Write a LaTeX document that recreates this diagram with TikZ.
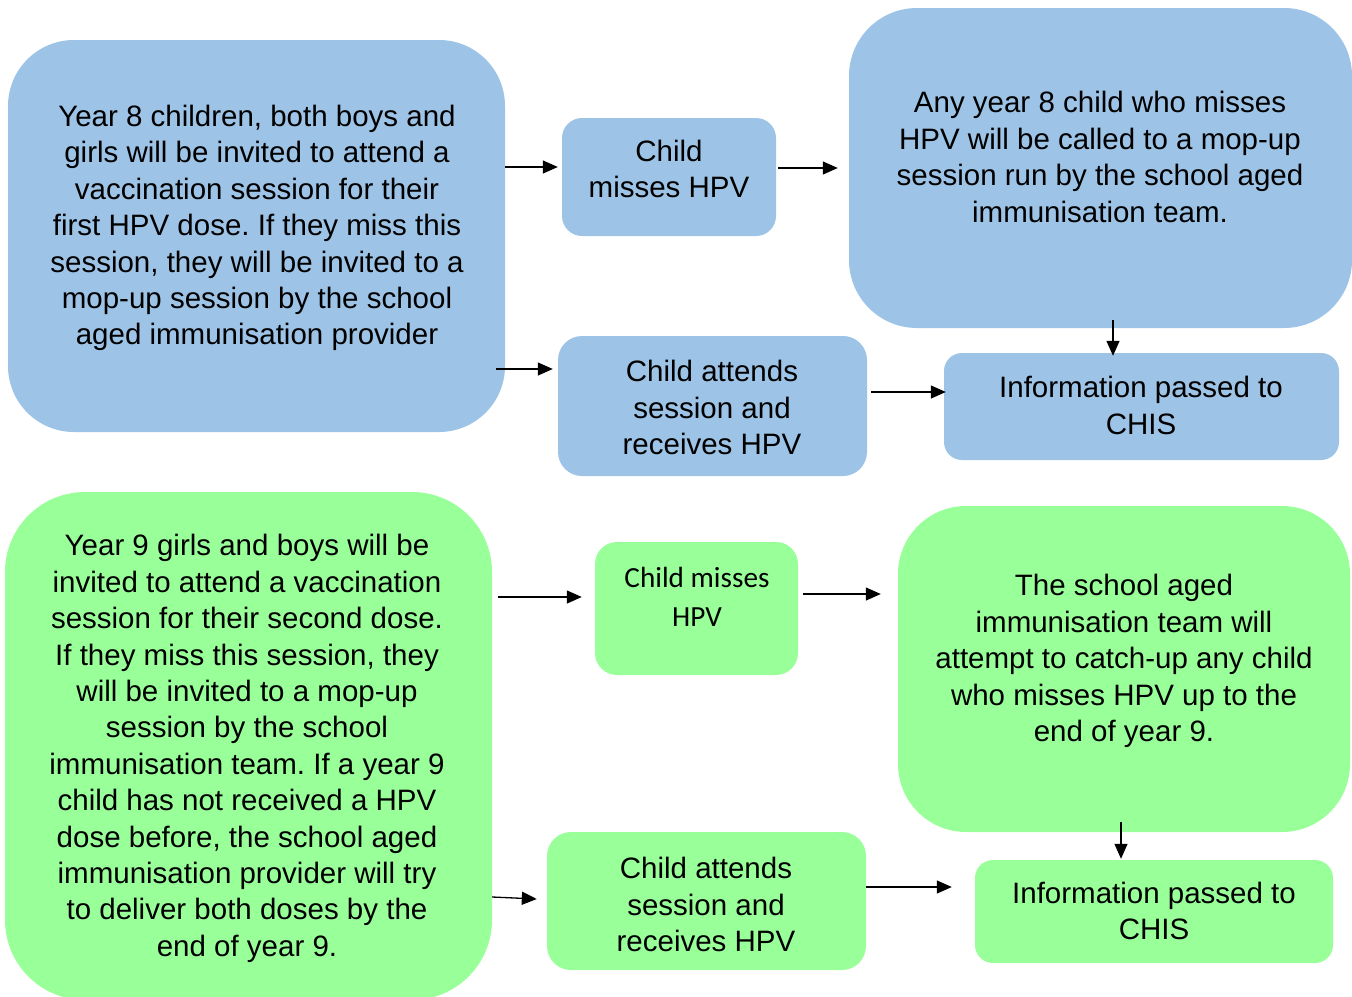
\documentclass[tikz,border=0pt]{standalone}
\usepackage{fontspec}
\setmainfont{Liberation Sans}
\newfontfamily\calib{Carlito}
\usetikzlibrary{arrows.meta}
\definecolor{hpvblue}{HTML}{9DC3E6}
\definecolor{hpvgreen}{HTML}{99FF99}
\frenchspacing
\tikzset{
  box/.style={fill=#1, draw=none, inner sep=0pt},
  txt/.style={align=center, inner sep=0pt, font=\fontsize{29.5}{36.4}\selectfont},
  arr/.style={line width=1.3pt, -{Triangle[length=15pt,width=13pt]}},
}
\begin{document}
\begin{tikzpicture}[x=1pt,y=-1pt]
\useasboundingbox (0,0) rectangle (1352,996);
% ---- Year 8 (blue) ----
\node[box=hpvblue, rounded corners=66pt, minimum width=497pt, minimum height=392pt] (b1) at (256.5,236) {};
\node[txt] (b1t) at (257,228) {Year 8 children, both boys and\\girls will be invited to attend a\\vaccination session for their\\first HPV dose. If they miss this\\session, they will be invited to a\\mop-up session by the school\\aged immunisation provider};
\node[box=hpvblue, rounded corners=20pt, minimum width=214pt, minimum height=118pt] (b2) at (669,177) {};
\node[txt] (b2t) at (669,169) {Child\\misses HPV};
\node[box=hpvblue, rounded corners=68pt, minimum width=503pt, minimum height=320pt] (b3) at (1100.5,168) {};
\node[txt] (b3t) at (1100,157) {Any year 8 child who misses\\HPV will be called to a mop-up\\session run by the school aged\\immunisation team.};
\node[box=hpvblue, rounded corners=24pt, minimum width=309pt, minimum height=140pt] (b4) at (712.5,406) {};
\node[txt] (b4t) at (712,407.5) {Child attends\\session and\\receives HPV};
\node[box=hpvblue, rounded corners=18pt, minimum width=395pt, minimum height=107pt] (b5) at (1141.5,406.5) {};
\node[txt] (b5t) at (1141,405.5) {Information passed to\\CHIS};
% ---- Year 9 (green) ----
\node[box=hpvgreen, rounded corners=80pt, minimum width=487pt, minimum height=508pt] (g1) at (248.5,746) {};
\node[txt] (g1t) at (247,748.5) {Year 9 girls and boys will be\\invited to attend a vaccination\\session for their second dose.\\If they miss this session, they\\will be invited to a mop-up\\session by the school\\immunisation team. If a year 9\\child has not received a HPV\\dose before, the school aged\\immunisation provider will try\\to deliver both doses by the\\end of year 9.};
\node[box=hpvgreen, rounded corners=22pt, minimum width=203pt, minimum height=133pt] (g2) at (696.5,608.5) {};
\node[align=center, inner sep=0pt, font=\calib\fontsize{29.2}{39}\selectfont] (g2t) at (697,597) {Child misses\\HPV};
\node[box=hpvgreen, rounded corners=68pt, minimum width=452pt, minimum height=326pt] (g3) at (1124,669) {};
\node[txt] (g3t) at (1124,661) {The school aged\\immunisation team will\\attempt to catch-up any child\\who misses HPV up to the\\end of year 9.};
\node[box=hpvgreen, rounded corners=24pt, minimum width=319pt, minimum height=138pt] (g4) at (706.5,901) {};
\node[txt] (g4t) at (706,904.5) {Child attends\\session and\\receives HPV};
\node[box=hpvgreen, rounded corners=18pt, minimum width=358pt, minimum height=103pt] (g5) at (1154,911.5) {};
\node[txt] (g5t) at (1154,911) {Information passed to\\CHIS};
% ---- connectors ----
\draw[arr] (b1.east |- 0,167) -- ([xshift=-4pt]b2.west |- 0,167);
\draw[arr] ([xshift=2pt]b2.east |- 0,168) -- ([xshift=-11pt]b3.west |- 0,168);
\draw[arr] ([xshift=-9pt]b1.east |- 0,369) -- ([xshift=-5pt]b4.west |- 0,369);
\draw[arr] ([xshift=4pt]b4.east |- 0,392) -- ([xshift=2pt]b5.west |- 0,392);
\draw[arr] ([yshift=8pt]b3.south -| 1113,0) -- ([yshift=-3pt]b5.north -| 1113,0);
\draw[arr] ([xshift=6pt]g1.east |- 0,597) -- ([xshift=-13pt]g2.west |- 0,597);
\draw[arr] ([xshift=5pt]g2.east |- 0,594) -- ([xshift=-17pt]g3.west |- 0,594);
\draw[arr] (g1.east |- 0,897) -- ([xshift=-10pt]g4.west |- 0,899);
\draw[arr] (g4.east |- 0,887) -- ([xshift=-23pt]g5.west |- 0,887);
\draw[arr] ([yshift=10pt]g3.south -| 1121,0) -- ([yshift=1pt]g5.north -| 1121,0);
\end{tikzpicture}
\end{document}
